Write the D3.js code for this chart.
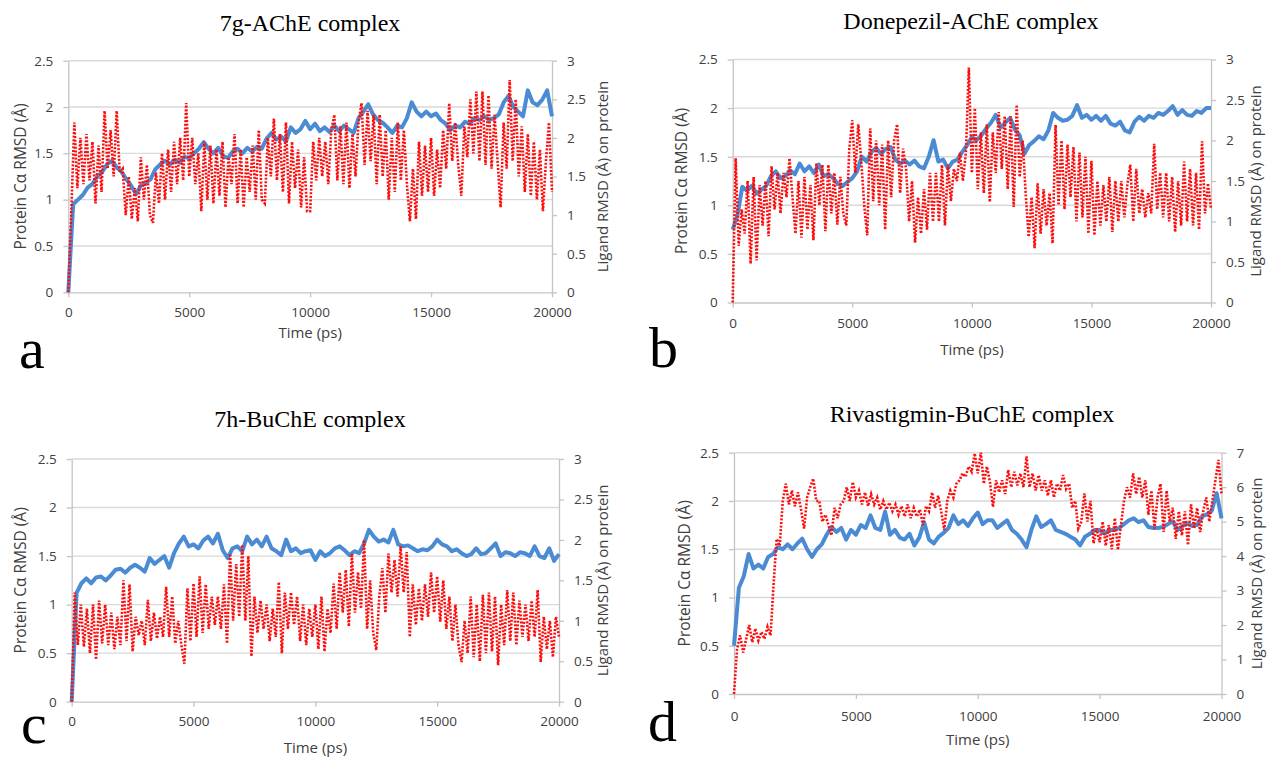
<!DOCTYPE html>
<html>
<head>
<meta charset="utf-8">
<script src="https://cdnjs.cloudflare.com/ajax/libs/d3/7.8.5/d3.min.js"></script>
<style>
  body { margin: 0; background: #fff; }
  svg { display: block; }
</style>
</head>
<body>
<div id="chart"></div>
<script>
////////////////////////////  Data  ////////////////////////////
const titles = ["7g-AChE complex", "Donepezil-AChE complex", "7h-BuChE complex", "Rivastigmin-BuChE complex"];
const letters = ["a", "b", "c", "d"];
const timeTicks = [0, 5000, 10000, 15000, 20000];
const leftTicks = [0, 0.5, 1, 1.5, 2, 2.5];
const rightTicks3 = [0, 0.5, 1, 1.5, 2, 2.5, 3];
const rightTicks7 = [0, 1, 2, 3, 4, 5, 6, 7];
const leftTitle = "Protein Cα RMSD (Å)";
const rightTitle = "Ligand RMSD (Å) on protein";
const xTitle = "Time (ps)";

// sample times (ps): protein every 200 ps, ligand every 125 ps
const blueTimes = d3.range(0, 20001, 200);
const redTimes = d3.range(0, 20001, 125);

// protein C-alpha RMSD (left axis)
const blueA = [
  0, 0.95, 1.0, 1.05, 1.13, 1.17, 1.25, 1.3, 1.38, 1.42,
  1.35, 1.3, 1.22, 1.15, 1.06, 1.15, 1.18, 1.22, 1.33, 1.38,
  1.42, 1.38, 1.43, 1.4, 1.46, 1.45, 1.5, 1.55, 1.62, 1.55,
  1.5, 1.56, 1.47, 1.45, 1.52, 1.55, 1.5, 1.56, 1.52, 1.57,
  1.55, 1.66, 1.72, 1.65, 1.68, 1.63, 1.78, 1.72, 1.76, 1.85,
  1.76, 1.82, 1.74, 1.78, 1.73, 1.8, 1.74, 1.8, 1.76, 1.72,
  1.88, 1.95, 2.03, 1.92, 1.86, 1.83, 1.78, 1.72, 1.8, 1.78,
  1.88, 2.05, 1.95, 1.9, 1.95, 1.9, 1.93, 1.86, 1.82, 1.75,
  1.8, 1.78, 1.84, 1.82, 1.88, 1.86, 1.9, 1.86, 1.88, 1.92,
  2.05, 2.12, 2.0, 1.95, 1.9, 2.18, 2.05, 2.02, 2.08, 2.18,
  1.9
];
const blueB = [
  0.75, 0.9, 1.19, 1.15, 1.2, 1.12, 1.16, 1.2, 1.3, 1.35,
  1.28, 1.3, 1.36, 1.32, 1.43, 1.35, 1.4, 1.33, 1.42, 1.3,
  1.32, 1.28, 1.22, 1.2, 1.24, 1.28, 1.35, 1.5, 1.45, 1.55,
  1.59, 1.53, 1.58, 1.6, 1.47, 1.43, 1.46, 1.42, 1.46, 1.4,
  1.38, 1.5, 1.67, 1.45, 1.47, 1.38, 1.45, 1.47, 1.55, 1.62,
  1.7, 1.67, 1.72, 1.79, 1.85, 1.93, 1.8, 1.85, 1.9, 1.78,
  1.72, 1.53, 1.62, 1.66, 1.71, 1.68, 1.77, 1.95, 1.9, 1.87,
  1.88, 1.92, 2.03, 1.9, 1.93, 1.88, 1.92, 1.87, 1.92, 1.84,
  1.82, 1.86, 1.77, 1.75, 1.86, 1.91, 1.87, 1.92, 1.9, 1.95,
  1.93, 1.97, 2.02, 1.93, 1.98, 1.93, 1.92, 1.97, 1.95, 2.0,
  2.0
];
const blueC = [
  0, 1.12, 1.22, 1.27, 1.22, 1.28, 1.29, 1.25, 1.3, 1.36,
  1.37, 1.33, 1.38, 1.41, 1.38, 1.34, 1.48, 1.42, 1.46, 1.5,
  1.38, 1.53, 1.63, 1.7, 1.6, 1.62, 1.58, 1.66, 1.7, 1.63,
  1.73, 1.56, 1.48, 1.58, 1.6, 1.55, 1.7, 1.62, 1.67, 1.6,
  1.7, 1.58, 1.55, 1.51, 1.67, 1.55, 1.58, 1.53, 1.55, 1.56,
  1.46, 1.55, 1.5, 1.53, 1.58, 1.6, 1.56, 1.51, 1.55, 1.53,
  1.63, 1.77, 1.7, 1.65, 1.67, 1.64, 1.77, 1.62, 1.6, 1.61,
  1.58, 1.55, 1.57, 1.56, 1.6, 1.67, 1.62, 1.6, 1.55, 1.57,
  1.53, 1.5, 1.52, 1.58, 1.52, 1.53, 1.58, 1.63, 1.5, 1.54,
  1.53, 1.5, 1.54, 1.53, 1.5, 1.6, 1.5, 1.48, 1.58, 1.45,
  1.52
];
const blueD = [
  0.5, 1.1, 1.22, 1.45, 1.3, 1.34, 1.3, 1.42, 1.45, 1.52,
  1.5, 1.55, 1.5, 1.56, 1.61, 1.5, 1.42, 1.5, 1.55, 1.65,
  1.73, 1.68, 1.72, 1.6, 1.7, 1.65, 1.75, 1.72, 1.85, 1.72,
  1.7, 1.89, 1.65, 1.7, 1.62, 1.6, 1.66, 1.54, 1.62, 1.78,
  1.6, 1.56, 1.63, 1.67, 1.72, 1.85, 1.76, 1.8, 1.74, 1.82,
  1.88, 1.76, 1.8, 1.8, 1.72, 1.76, 1.8, 1.7, 1.66, 1.6,
  1.52, 1.7, 1.84, 1.73, 1.76, 1.8, 1.7, 1.68, 1.66, 1.63,
  1.6, 1.54, 1.63, 1.66, 1.7, 1.7, 1.66, 1.7, 1.7, 1.72,
  1.76, 1.8, 1.82, 1.78, 1.8, 1.73, 1.72, 1.72, 1.73, 1.76,
  1.79, 1.7, 1.74, 1.77, 1.74, 1.75, 1.84, 1.86, 1.9, 2.08,
  1.82
];

// ligand RMSD (right axis)
const redA = [
  0, 1.05, 2.2, 1.35, 2.0, 1.4, 2.05, 1.45,
  1.95, 1.15, 1.9, 1.3, 2.35, 1.6, 2.1, 1.5,
  2.35, 1.55, 1.6, 1.0, 1.5, 0.95, 1.35, 0.92,
  1.75, 1.2, 1.65, 1.0, 0.9, 1.55, 1.15, 1.8,
  1.2, 1.85, 1.3, 1.95, 1.4, 2.0, 1.45, 2.45,
  1.5, 2.0, 1.4, 1.8, 1.05, 1.95, 1.2, 1.9,
  1.15, 1.85, 1.25, 1.95, 1.1, 1.75, 1.4, 2.05,
  1.15, 1.85, 1.1, 1.75, 1.3, 1.9, 1.2, 2.1,
  1.2, 1.15, 2.0, 1.5, 2.25, 1.45, 2.05, 1.3,
  2.2, 1.15, 1.95, 1.35, 1.85, 1.1, 1.75, 1.05,
  1.05, 1.95, 1.45, 2.0, 1.5, 1.95, 1.4, 2.1,
  2.3, 1.45, 2.15, 1.4, 2.2, 1.35, 2.05, 1.5,
  2.2, 2.45, 1.65, 2.35, 1.7, 2.3, 1.4, 2.3,
  1.5, 2.1, 1.2, 2.0, 1.3, 2.2, 1.45, 2.1,
  1.4, 0.92, 1.6, 0.95, 1.95, 1.25, 1.9, 1.3,
  2.0, 1.25, 1.85, 1.35, 2.1, 1.6, 2.45, 1.7,
  2.2, 1.65, 1.25, 2.15, 1.75, 2.5, 1.8, 2.6,
  1.7, 2.6, 1.65, 2.55, 1.6, 2.3, 1.7, 1.1,
  2.2, 1.6, 2.75, 1.7, 2.5, 1.5, 2.15, 1.3,
  2.05, 1.25, 1.95, 1.2, 1.85, 1.05, 1.7, 2.2,
  1.3
];
const redB = [
  0, 1.78, 0.7, 1.15, 0.85, 1.5, 0.48, 1.55,
  0.52, 1.45, 0.95, 1.5, 0.82, 1.68, 1.15, 1.6,
  1.1, 1.6, 1.3, 1.78, 1.3, 0.85, 1.5, 0.8,
  1.55, 0.9, 1.45, 0.77, 1.72, 1.2, 1.7, 0.88,
  1.7, 1.1, 1.6, 0.96, 1.55, 1.1, 0.95, 1.9,
  2.25, 1.6, 2.2, 1.75, 1.2, 0.83, 2.15, 1.25,
  2.0, 1.2, 1.95, 0.9, 2.0, 1.3, 2.0, 2.2,
  1.35, 1.9, 1.65, 1.0, 1.5, 0.74, 1.3, 0.85,
  1.4, 0.9, 1.6, 1.0, 1.6, 1.0, 1.7, 0.95,
  1.7, 1.25, 1.65, 1.5, 1.85, 1.5, 1.85, 2.9,
  1.6, 2.4, 1.4, 2.1, 1.35, 2.2, 1.24, 2.1,
  1.6, 2.35, 1.65, 2.3, 1.4, 2.3, 1.18, 2.44,
  1.55, 2.0, 1.35, 0.81, 1.3, 0.67, 1.47, 0.85,
  1.4, 0.95, 1.35, 0.73, 2.19, 1.2, 2.0, 1.15,
  1.95, 1.3, 1.92, 1.0, 1.85, 1.05, 1.8, 0.85,
  1.75, 0.83, 1.5, 0.95, 1.45, 1.0, 1.55, 0.87,
  1.5, 1.0, 1.5, 1.05, 1.45, 1.7, 1.0, 1.65,
  1.1, 1.4, 1.05, 1.35, 1.1, 1.96, 1.15, 1.6,
  1.05, 1.6, 1.0, 1.55, 0.87, 1.5, 0.95, 1.74,
  1.0, 1.65, 0.95, 1.6, 0.9, 1.99, 1.1, 1.47,
  1.15
];
const redC = [
  0, 1.35, 0.7, 1.2, 0.68, 1.15, 0.6, 1.2,
  0.52, 1.25, 0.72, 1.2, 0.7, 1.1, 0.65, 1.05,
  0.7, 1.5, 0.75, 1.45, 0.62, 1.05, 0.82, 1.0,
  0.7, 1.26, 0.75, 1.1, 0.78, 1.05, 0.8, 1.42,
  0.8, 1.3, 0.72, 1.0, 0.7, 0.47, 1.4, 0.75,
  1.46, 0.8, 1.55, 0.85, 1.45, 0.9, 1.3, 0.95,
  1.3, 0.9, 1.45, 0.72, 1.83, 1.0, 1.7, 1.05,
  1.94, 1.0, 1.8, 0.56, 1.3, 0.85, 1.25, 0.9,
  1.2, 0.75, 1.15, 0.8, 1.48, 0.6, 1.35, 0.9,
  1.35, 0.95, 1.3, 0.75, 1.2, 0.7, 1.15, 0.8,
  1.2, 0.65, 1.3, 0.62, 1.15, 0.85, 1.46, 0.9,
  1.6, 1.1, 1.63, 0.93, 1.83, 1.1, 1.6, 1.15,
  2.0, 0.9, 1.5, 0.85, 0.64, 1.3, 1.65, 1.1,
  1.83, 1.35, 1.75, 1.3, 1.92, 1.35, 1.85, 0.8,
  1.45, 0.95, 1.4, 1.0, 1.45, 1.05, 1.6, 1.1,
  1.55, 0.99, 1.5, 0.9, 1.3, 0.75, 1.2, 0.7,
  0.49, 1.0, 0.6, 1.3, 0.55, 1.2, 0.5, 1.32,
  0.6, 1.35, 0.62, 1.3, 0.45, 1.2, 0.7, 1.38,
  0.75, 1.35, 0.7, 1.25, 0.8, 1.2, 0.75, 1.25,
  0.8, 1.38, 0.49, 1.05, 0.65, 1.0, 0.55, 1.05,
  0.8
];
const redD = [
  0, 1.3, 1.7, 1.2, 1.6, 2.0, 1.5, 1.9,
  1.55, 1.8, 1.6, 1.95, 1.7, 3.2, 4.5, 4.3,
  5.6, 6.1, 5.5, 5.9, 5.45, 5.85, 5.35, 4.8,
  5.7, 6.0, 6.25, 5.6, 5.6, 5.0, 5.2, 4.9,
  4.6, 5.4, 5.1, 5.5, 5.6, 6.0, 5.6, 6.15,
  5.7, 5.9, 5.5, 5.85, 5.45, 5.8, 5.5, 5.7,
  5.35, 5.6, 5.35, 5.55, 5.3, 5.5, 5.2, 5.45,
  5.15, 5.5, 5.1, 5.4, 5.15, 5.35, 4.9, 5.45,
  5.3, 5.85, 5.4, 5.75, 5.3, 4.76, 5.6, 5.9,
  5.7, 6.1, 6.2, 6.4, 6.3, 6.6, 6.45, 6.98,
  6.4, 7.0, 6.1, 6.6, 6.15, 5.43, 6.2, 5.85,
  6.2, 5.8, 6.5, 6.0, 6.45, 6.05, 6.4, 6.0,
  6.89, 6.0, 6.4, 5.9, 6.35, 5.9, 6.2, 5.75,
  6.2, 5.7, 6.1, 5.9, 6.35, 5.95, 6.1, 5.4,
  5.6, 4.8, 5.0, 5.82, 5.0, 5.6, 4.37, 4.8,
  4.4, 5.0, 4.3, 4.9, 4.2, 5.1, 4.18, 4.9,
  5.6, 6.0, 5.7, 6.4, 5.8, 6.3, 5.7, 6.2,
  5.2, 5.9, 4.8, 5.7, 6.1, 4.7, 5.9, 5.0,
  5.4, 4.5, 5.3, 4.6, 5.3, 4.32, 5.5, 4.8,
  5.4, 4.7, 5.3, 5.7, 5.0, 5.6, 6.2, 6.79,
  5.8
];

////////////////////////////  Layout  ////////////////////////////
const width = 1269, height = 757;
const sans = "'Open Sans', 'DejaVu Sans', sans-serif";
const serif = "'Liberation Serif', 'DejaVu Serif', serif";

const panels = [
  { blue: blueA, red: redA, rightTicks: rightTicks3, rightMax: 3,
    x0: 68.3, x1: 552, top: 60.7, bottom: 292.3, titleX: 310, titleY: 31,
    letterX: 19, letterY: 368, tickPad: 10, timeY: 338, leftTitleX: 21, rightTitleX: 603 },
  { blue: blueB, red: redB, rightTicks: rightTicks3, rightMax: 3,
    x0: 732.7, x1: 1211, top: 59.5, bottom: 302.5, titleX: 971, titleY: 29,
    letterX: 649, letterY: 367, tickPad: 11, timeY: 355, leftTitleX: 682, rightTitleX: 1256 },
  { blue: blueC, red: redC, rightTicks: rightTicks3, rightMax: 3,
    x0: 71.7, x1: 559, top: 459, bottom: 701.7, titleX: 310, titleY: 427,
    letterX: 21, letterY: 743, tickPad: 10, timeY: 753, leftTitleX: 21, rightTitleX: 603 },
  { blue: blueD, red: redD, rightTicks: rightTicks7, rightMax: 7,
    x0: 734, x1: 1221.5, top: 452.7, bottom: 694, titleX: 972, titleY: 422,
    letterX: 648, letterY: 741, tickPad: 12, timeY: 745, leftTitleX: 685, rightTitleX: 1257 }
];

const svg = d3.select("#chart").append("svg")
  .attr("width", width).attr("height", height)
  .style("background", "#fff");

function styleAxis(g) {
  g.attr("font-family", sans).attr("font-size", 13.5);
  g.select(".domain").attr("stroke", "#c4c4c4").attr("stroke-width", 1.3);
  g.selectAll(".tick line").attr("stroke", "#c4c4c4").attr("stroke-width", 1.3);
  g.selectAll(".tick text").attr("fill", "#404040");
}

panels.forEach((p, i) => {
  const g = svg.append("g");

  const x = d3.scaleLinear().domain([0, 20000]).range([p.x0, p.x1]);
  const y = d3.scaleLinear().domain([0, 2.5]).range([p.bottom, p.top]);
  const yR = d3.scaleLinear().domain([0, p.rightMax]).range([p.bottom, p.top]);

  // gridlines
  g.append("g").selectAll("line")
    .data(leftTicks.filter((d) => d > 0))
    .join("line")
    .attr("x1", p.x0).attr("x2", p.x1)
    .attr("y1", (d) => y(d)).attr("y2", (d) => y(d))
    .attr("stroke", "#d9d9d9").attr("stroke-width", 1.4);

  // axes
  g.append("g")
    .attr("transform", `translate(0,${p.bottom})`)
    .call(d3.axisBottom(x).tickValues(timeTicks).tickSize(5).tickSizeOuter(0)
      .tickPadding(p.tickPad).tickFormat((d) => String(d)))
    .call(styleAxis);

  g.append("g")
    .attr("transform", `translate(${p.x0},0)`)
    .call(d3.axisLeft(y).tickValues(leftTicks).tickSize(5).tickSizeOuter(0)
      .tickPadding(10).tickFormat((d) => String(d)))
    .call(styleAxis);

  g.append("g")
    .attr("transform", `translate(${p.x1},0)`)
    .call(d3.axisRight(yR).tickValues(p.rightTicks).tickSize(5).tickSizeOuter(0)
      .tickPadding(10).tickFormat((d) => String(d)))
    .call(styleAxis);

  // protein line (blue, solid)
  const blueLine = d3.line().x((d) => x(d[0])).y((d) => y(d[1]));
  g.append("path")
    .datum(d3.zip(blueTimes, p.blue))
    .attr("d", blueLine)
    .attr("fill", "none")
    .attr("stroke", "#4a8bd3")
    .attr("stroke-width", 4)
    .attr("stroke-linejoin", "round");

  // ligand line (red, dotted)
  const redLine = d3.line().x((d) => x(d[0])).y((d) => yR(d[1]));
  g.append("path")
    .datum(d3.zip(redTimes, p.red))
    .attr("d", redLine)
    .attr("fill", "none")
    .attr("stroke", "#ff0d0d")
    .attr("stroke-width", 2.6)
    .attr("stroke-dasharray", "2,1.6");

  // titles
  g.append("text")
    .attr("x", p.titleX).attr("y", p.titleY)
    .attr("text-anchor", "middle")
    .attr("font-family", serif).attr("font-size", 24)
    .attr("fill", "#000")
    .text(titles[i]);

  g.append("text")
    .attr("transform", `translate(${p.leftTitleX},${(p.top + p.bottom) / 2}) rotate(-90)`)
    .attr("text-anchor", "middle").attr("dy", "0.35em")
    .attr("font-family", sans).attr("font-size", 15.5)
    .attr("fill", "#404040")
    .text(leftTitle);

  g.append("text")
    .attr("transform", `translate(${p.rightTitleX},${(p.top + p.bottom) / 2}) rotate(-90)`)
    .attr("text-anchor", "middle").attr("dy", "0.35em")
    .attr("font-family", sans).attr("font-size", 15)
    .attr("fill", "#404040")
    .text(rightTitle);

  g.append("text")
    .attr("x", (p.x0 + p.x1) / 2).attr("y", p.timeY)
    .attr("text-anchor", "middle")
    .attr("font-family", sans).attr("font-size", 15)
    .attr("fill", "#404040")
    .text(xTitle);

  g.append("text")
    .attr("x", p.letterX).attr("y", p.letterY)
    .attr("font-family", serif).attr("font-size", 58)
    .attr("fill", "#000")
    .text(letters[i]);
});
</script>
</body>
</html>
